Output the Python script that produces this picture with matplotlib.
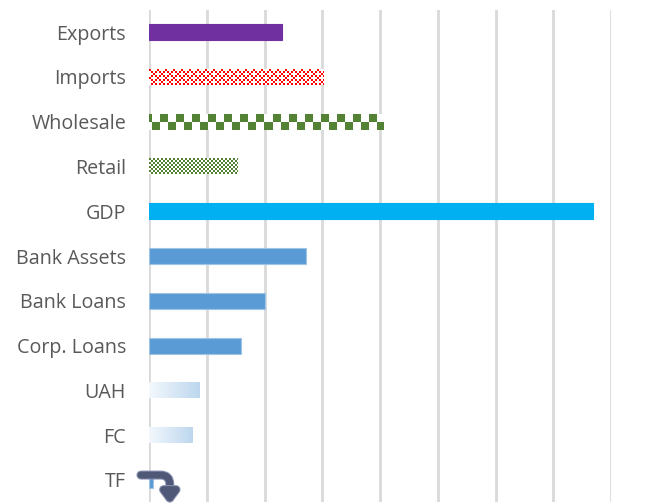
import numpy as np
import matplotlib
matplotlib.use("Agg")
import matplotlib.pyplot as plt
import matplotlib.patheffects as pe
from matplotlib.colors import LinearSegmentedColormap

labels = ["Exports", "Imports", "Wholesale", "Retail", "GDP", "Bank Assets",
          "Bank Loans", "Corp. Loans", "UAH", "FC", "TF"]
values = [2.30, 3.03, 4.06, 1.54, 7.69, 2.71, 2.00, 1.59, 0.87, 0.75, 0.07]
fills = ["solid", "imports", "wholesale", "retail", "solid", "solid",
         "solid", "solid", "gradient", "gradient", "solid"]
colors = ["#7030a0", "#ff0000", "#548235", "#548235", "#00b0f0", "#5b9bd5",
          "#5b9bd5", "#5b9bd5", "#bdd7ee", "#bdd7ee", "#5b9bd5"]

W, H = 665, 504
fig = plt.figure(figsize=(W / 100, H / 100), dpi=100)
ax = fig.add_axes([149 / W, 1.6 / H, (611 - 149) / W, (502.4 - 9.6) / H])

XMAX = 8
ax.set_xlim(0, XMAX)
ax.set_ylim(len(labels) - 0.5, -0.5)
px_x = (611 - 149) / XMAX      # pixels per data unit
px_y = (502.4 - 9.6) / len(labels)
bar_h = 16 / px_y


def pattern(kind, npx_w, npx_h):
    yy, xx = np.mgrid[0:npx_h, 0:npx_w]
    if kind == "wholesale":
        return (((xx + 5) // 8 + yy // 8) % 2 == 0)
    if kind == "retail":
        return ((xx // 2 + yy // 2) % 2 == 0)
    # imports: dotted diamond lattice
    i, j = xx // 2, yy // 2
    return ((i + j) % 4 == 0) | ((i - j) % 4 == 0)


for i, (lab, v, f, c) in enumerate(zip(labels, values, fills, colors)):
    if f == "solid":
        edge = "#9dc3e6" if c == "#5b9bd5" else c
        ax.barh(i, v, height=bar_h, color=c, edgecolor=edge, linewidth=0.8, zorder=3)
        continue
    bar = ax.barh(i, v, height=bar_h, color="none", linewidth=0, zorder=3)[0]
    ext = [0, v, i + bar_h / 2, i - bar_h / 2]
    if f == "gradient":
        cmap = LinearSegmentedColormap.from_list("g", ["#f3f8fd", c])
        img = np.linspace(0, 1, 200)[None, :]
        im = ax.imshow(img, cmap=cmap, extent=ext, aspect="auto", zorder=3,
                       interpolation="bilinear")
    else:
        nw = int(round(v * px_x))
        nh = 16
        mask = pattern(f, nw, nh).astype(float)
        cmap = LinearSegmentedColormap.from_list("p", ["white", c])
        im = ax.imshow(mask, cmap=cmap, extent=ext, aspect="auto", zorder=3,
                       interpolation="nearest", vmin=0, vmax=1)
    im.set_clip_path(bar)

ax.set_yticks(range(len(labels)))
ax.set_yticklabels(labels)
ax.set_xticks(np.arange(0, XMAX + 1, 1))
ax.tick_params(axis="y", length=0, pad=16.5, labelsize=14.2, labelcolor="#595959")
ax.tick_params(axis="x", length=0, labelbottom=False)
for lbl in ax.get_yticklabels():
    lbl.set_fontfamily(["Open Sans", "DejaVu Sans"])
ax.grid(axis="x", color="#d9d9d9", linewidth=2, zorder=0)
for s in ax.spines.values():
    s.set_visible(False)

# curved arrow icon near TF
ax.annotate("", xy=(0.36, 10.53), xytext=(-0.14, 9.89),
            arrowprops=dict(arrowstyle="-|>,head_length=0.6,head_width=0.45",
                            connectionstyle="angle,angleA=0,angleB=90,rad=9",
                            fc="#4f5877", ec="#4f5877", lw=5, shrinkA=0, shrinkB=0,
                            path_effects=[pe.Stroke(linewidth=6.5, foreground="#8a93b0"),
                                          pe.Normal()]),
            annotation_clip=False, zorder=5)

fig.savefig("out.png", dpi=100, facecolor="white")
